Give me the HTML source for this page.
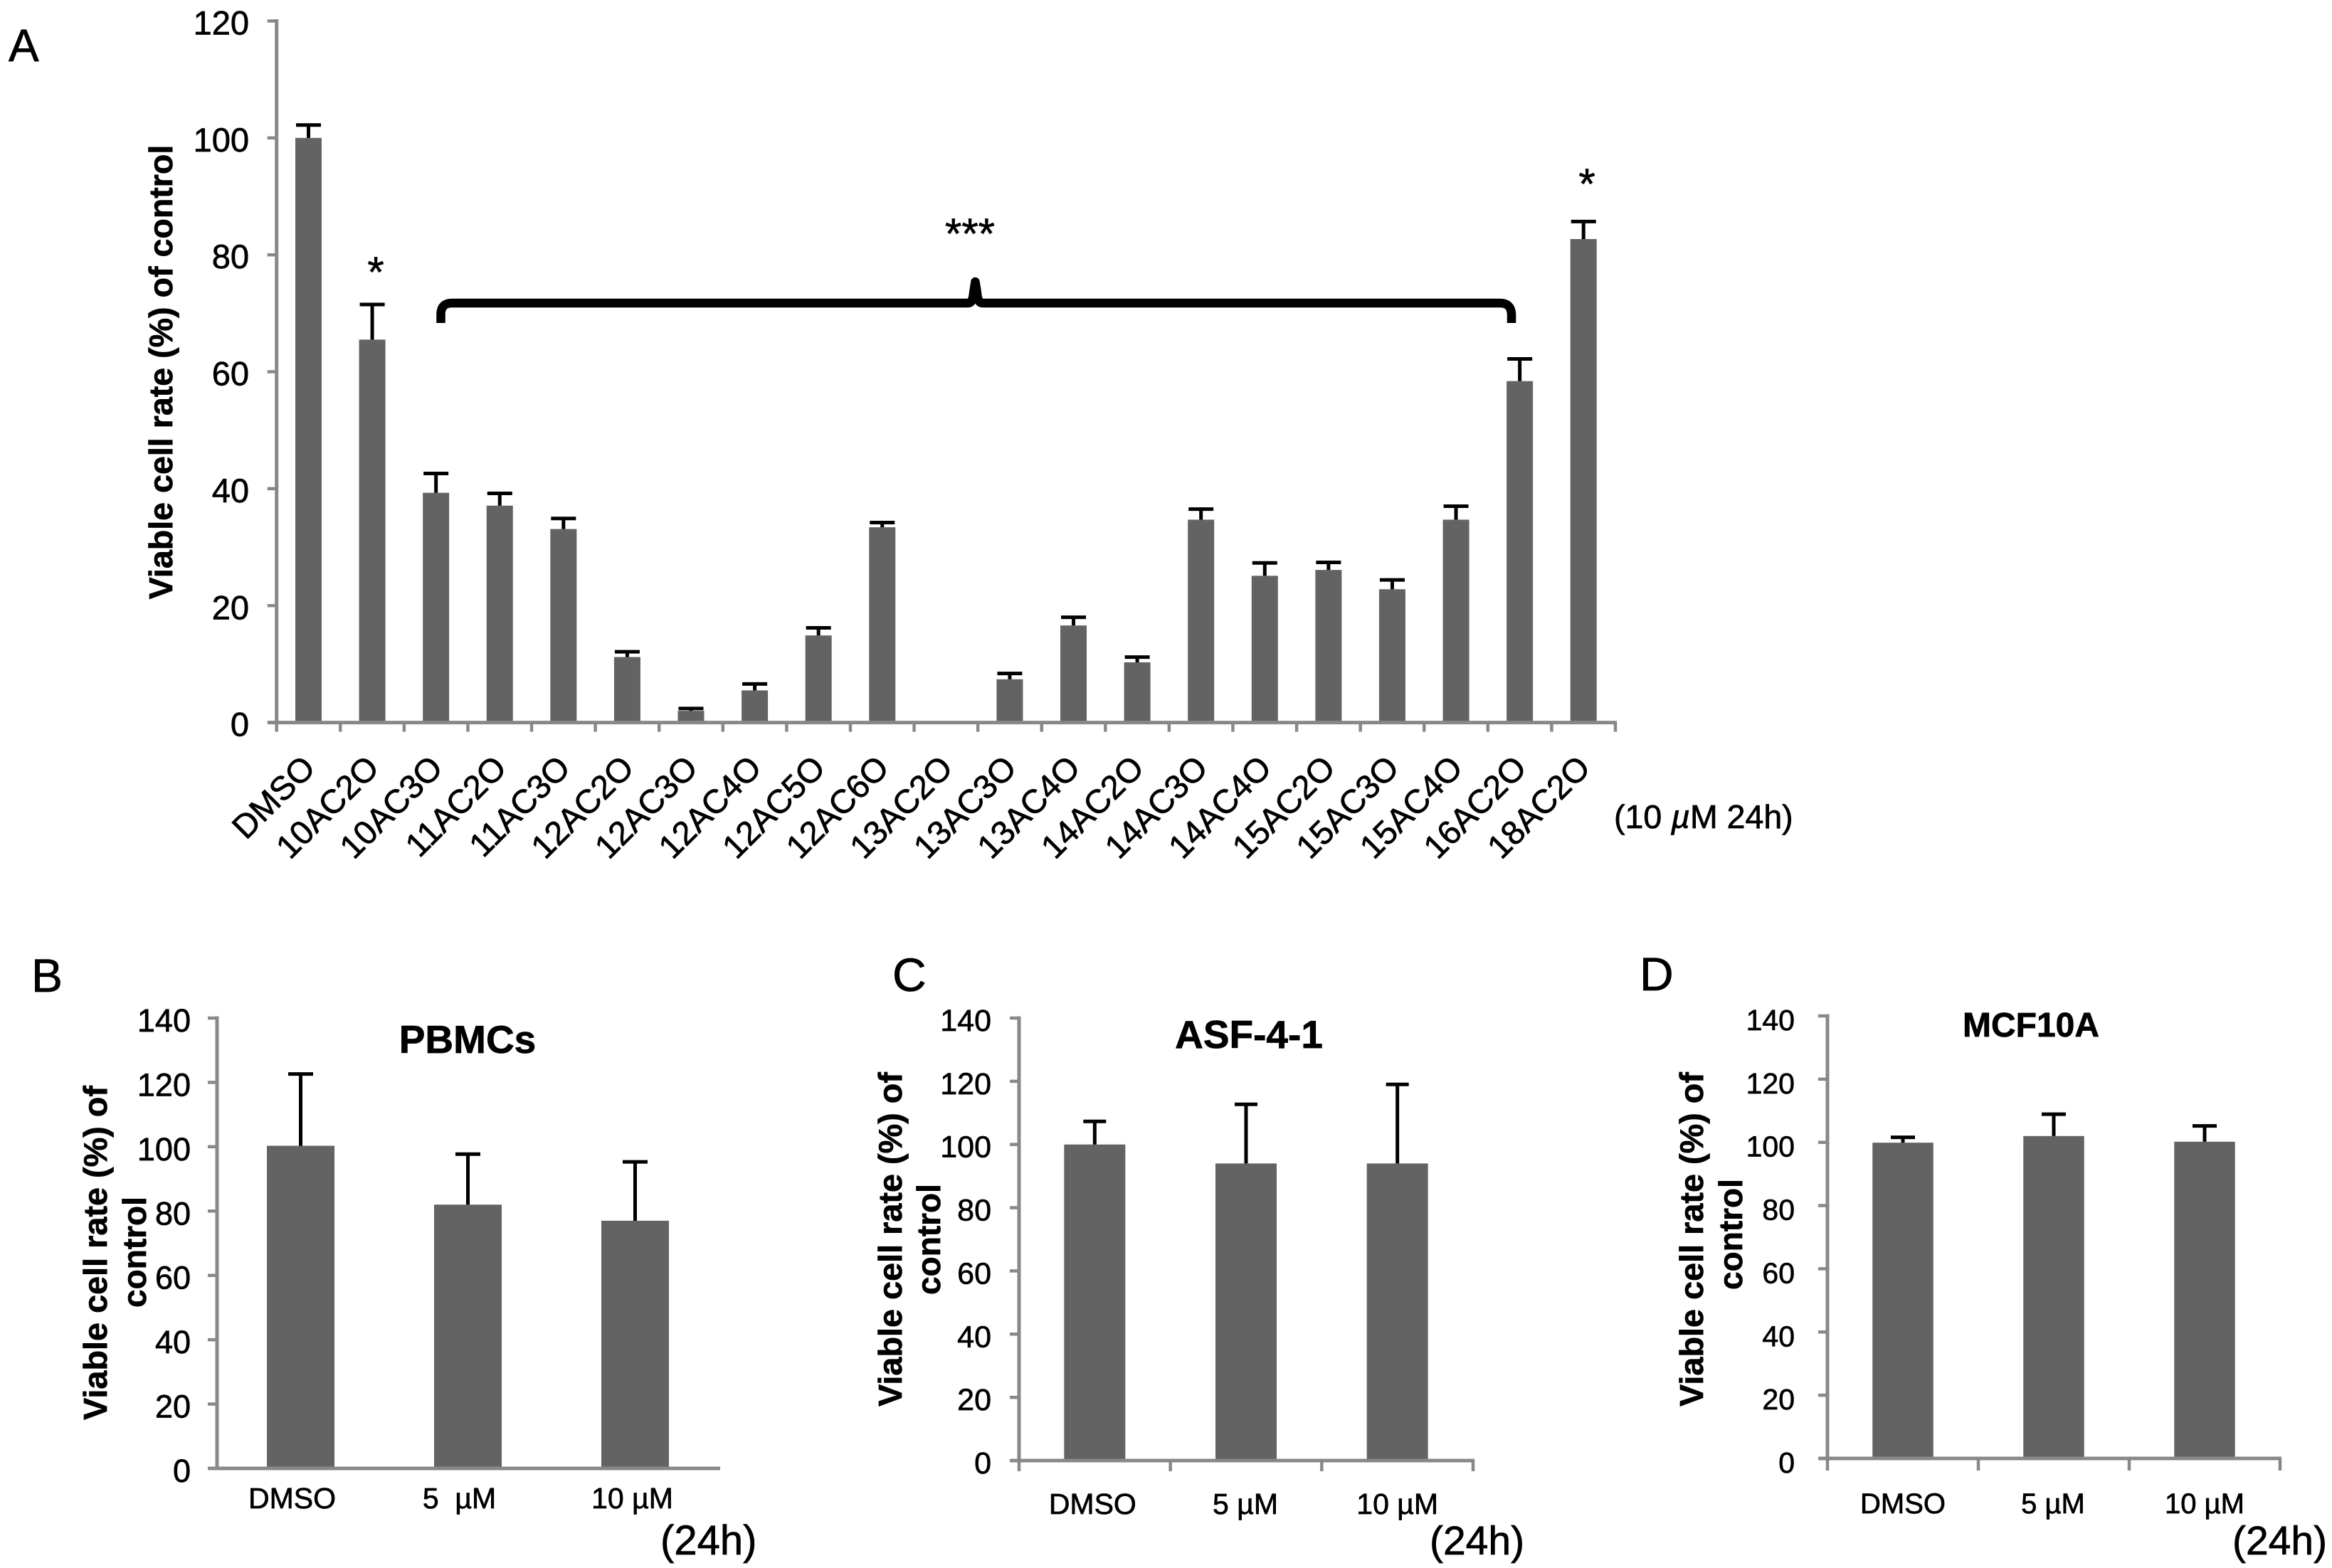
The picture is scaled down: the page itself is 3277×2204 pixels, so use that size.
<!DOCTYPE html>
<html lang="en">
<head>
<meta charset="utf-8">
<title>Viable cell rate charts</title>
<style>
  html, body { margin: 0; padding: 0; background: #fff; }
  svg { display: block; }
  text { font-family: "Liberation Sans", Arial, sans-serif; fill: #000; stroke: #000; stroke-width: 0.7px; }
  .b { font-weight: bold; }
</style>
</head>
<body>
<svg id="figure" xmlns="http://www.w3.org/2000/svg" width="3277" height="2204" viewBox="0 0 3277 2204">
  <rect x="0" y="0" width="3277" height="2204" fill="#fff"/>

  <text x="12" y="86" font-size="64">A</text>
  <text x="44" y="1394" font-size="66">B</text>
  <text x="1254" y="1393" font-size="66">C</text>
  <text x="2304" y="1392" font-size="66">D</text>

  <text class="b" font-size="46.6" text-anchor="middle" transform="translate(242 523) rotate(-90)">Viable cell rate (%) of control</text>

  <text class="b" font-size="46.8" text-anchor="middle" transform="translate(150 1761) rotate(-90)">Viable cell rate (%) of</text>
  <text class="b" font-size="46" text-anchor="middle" transform="translate(205 1760) rotate(-90)">control</text>

  <text class="b" font-size="46.8" text-anchor="middle" transform="translate(1267 1742) rotate(-90)">Viable cell rate (%) of</text>
  <text class="b" font-size="46" text-anchor="middle" transform="translate(1321 1742) rotate(-90)">control</text>

  <text class="b" font-size="46.8" text-anchor="middle" transform="translate(2393 1742) rotate(-90)">Viable cell rate (%) of</text>
  <text class="b" font-size="46" text-anchor="middle" transform="translate(2448 1735) rotate(-90)">control</text>

  <text class="b" x="657" y="1480" font-size="55" text-anchor="middle">PBMCs</text>
  <text class="b" x="1755" y="1473" font-size="55" text-anchor="middle">ASF-4-1</text>
  <text class="b" x="2854" y="1457" font-size="48" text-anchor="middle">MCF10A</text>

  <text x="2268" y="1164" font-size="46.5">(10 <tspan font-style="italic">µ</tspan>M 24h)</text>
  <text x="928" y="2185" font-size="58">(24h)</text>
  <text x="2009" y="2185" font-size="57">(24h)</text>
  <text x="3137" y="2185" font-size="57">(24h)</text>

  <path d="M619.5 454 L619.5 441 Q620 426 635 426 L1360 426 Q1367 426 1368 412 L1370.5 396 L1373 412 Q1374 426 1381 426 L2108 426 Q2123 426 2124 441 L2124 454" fill="none" stroke="#000" stroke-width="12.5" stroke-linejoin="round"/>
  <text x="528" y="403" font-size="60" text-anchor="middle">*</text>
  <text x="1363" y="349" font-size="60" text-anchor="middle">***</text>
  <text x="2230" y="279" font-size="60" text-anchor="middle">*</text>
</svg>

<script>
// ---- Panel A data ----
const aCategories = ["DMSO","10AC2O","10AC3O","11AC2O","11AC3O","12AC2O","12AC3O","12AC4O","12AC5O","12AC6O","13AC2O","13AC3O","13AC4O","14AC2O","14AC3O","14AC4O","15AC2O","15AC3O","15AC4O","16AC2O","18AC2O"];
const aValues = [100,65.5,39.3,37.1,33.1,11.2,2.0,5.5,14.9,33.4,0,7.4,16.6,10.3,34.7,25.1,26.1,22.8,34.7,58.4,82.7];
const aErrors = [2.2,6.0,3.3,2.1,1.8,0.9,0.4,1.1,1.3,0.8,0,1.0,1.4,0.9,1.8,2.2,1.3,1.6,2.3,3.8,3.0];
const aTicks = [0,20,40,60,80,100,120];

// ---- Panel B data ----
const bCategories = ["DMSO","5\u00a0\u00a0µM","10 µM"];
const bValues = [100.3,82,77];
const bErrors = [22.3,15.7,18.3];
const bTicks = [0,20,40,60,80,100,120,140];

// ---- Panel C data ----
const cCategories = ["DMSO","5 µM","10 µM"];
const cValues = [100,94,94];
const cErrors = [7.3,18.7,25];
const cTicks = [0,20,40,60,80,100,120,140];

// ---- Panel D data ----
const dCategories = ["DMSO","5 µM","10 µM"];
const dValues = [99.9,102,100.2];
const dErrors = [1.7,6.9,5.0];
const dTicks = [0,20,40,60,80,100,120,140];

const NS = "http://www.w3.org/2000/svg";
const figure = document.getElementById("figure");
const AXIS = "#888888";
const BAR = "#636363";

function make(tag, attrs, parent) {
  const el = document.createElementNS(NS, tag);
  for (const k in attrs) el.setAttribute(k, attrs[k]);
  parent.appendChild(el);
  return el;
}

function drawPanel(p) {
  const g = make("g", {}, figure);
  
  

  const yMax = p.ticks[p.ticks.length - 1];
  const yScale = v => p.y0 - v * (p.y0 - p.yTop) / yMax;
  const step = (p.xEnd - p.x0) / p.categories.length;
  const xScale = i => p.x0 + (i + 0.5) * step;

  // bars and error bars
  p.values.forEach((v, i) => {
    const cx = xScale(i);
    if (v > 0) {
      const bar = make("rect", {x: cx - p.barW / 2, y: yScale(v), width: p.barW, height: p.y0 - yScale(v), fill: BAR}, g);
      
      
    }
    if (p.errors[i] > 0) {
      const top = yScale(v + p.errors[i]);
      const stem = make("line", {x1: cx, x2: cx, y1: yScale(v), y2: top, stroke: "#000", "stroke-width": 5}, g);
      
      
      const cap = make("line", {x1: cx - p.capW / 2, x2: cx + p.capW / 2, y1: top, y2: top, stroke: "#000", "stroke-width": 5}, g);
      
      
    }
  });

  // axes
  const yAxis = make("line", {x1: p.x0, x2: p.x0, y1: p.yTop - 2.5, y2: p.y0 + 2.5, stroke: AXIS, "stroke-width": 5}, g);
  
  
  const xAxis = make("line", {x1: p.x0 - 12, x2: p.xEnd + 2, y1: p.y0, y2: p.y0, stroke: AXIS, "stroke-width": 5}, g);
  
  

  // y ticks and labels
  p.ticks.forEach(t => {
    const y = yScale(t);
    const mark = make("line", {x1: p.x0 - 13, x2: p.x0, y1: y, y2: y, stroke: AXIS, "stroke-width": 4.5}, g);
    
    
    const label = make("text", {x: p.yLabelRight, y: y + p.yLabelDy, "font-size": p.yLabelSize, "text-anchor": "end"}, g);
    label.textContent = String(t);
    
    
  });

  // x ticks
  if (p.xTickLen > 0) {
    for (let i = 0; i <= p.categories.length; i++) {
      const x = p.x0 + i * step;
      const mark = make("line", {x1: x, x2: x, y1: p.y0, y2: p.y0 + p.xTickLen, stroke: AXIS, "stroke-width": 4.5}, g);
      
      
    }
  }

  // x labels
  p.categories.forEach((name, i) => {
    const cx = xScale(i);
    let label;
    if (p.rotated) {
      label = make("text", {"font-size": p.xLabelSize, "text-anchor": "end",
        transform: "translate(" + (cx + 12) + " " + p.xLabelY + ") rotate(-45)"}, g);
    } else {
      label = make("text", {x: cx + p.labelOffsets[i], y: p.xLabelY, "font-size": p.xLabelSize, "text-anchor": "middle"}, g);
    }
    label.textContent = name;
    
    
  });
}

drawPanel({id: "a", categories: aCategories, values: aValues, errors: aErrors, ticks: aTicks,
  x0: 388.7, xEnd: 2270, yTop: 29.5, y0: 1015.6, barW: 37, capW: 35, xTickLen: 13,
  yLabelRight: 350, yLabelDy: 19, yLabelSize: 47, rotated: true, xLabelY: 1082, xLabelSize: 47});

drawPanel({id: "b", categories: bCategories, values: bValues, errors: bErrors, ticks: bTicks,
  x0: 305, xEnd: 1010, yTop: 1431, y0: 2064, barW: 95, capW: 35, xTickLen: 0,
  yLabelRight: 268, yLabelDy: 19, yLabelSize: 45, rotated: false, xLabelY: 2120, xLabelSize: 41, labelOffsets: [-12,-12,-4]});

drawPanel({id: "c", categories: cCategories, values: cValues, errors: cErrors, ticks: cTicks,
  x0: 1432, xEnd: 2070, yTop: 1431, y0: 2053, barW: 86, capW: 32, xTickLen: 15,
  yLabelRight: 1393, yLabelDy: 18, yLabelSize: 43, rotated: false, xLabelY: 2128, xLabelSize: 41, labelOffsets: [-3,-1,0]});

drawPanel({id: "d", categories: dCategories, values: dValues, errors: dErrors, ticks: dTicks,
  x0: 2568, xEnd: 3204, yTop: 1428, y0: 2050, barW: 85.5, capW: 34, xTickLen: 17,
  yLabelRight: 2522, yLabelDy: 20, yLabelSize: 41, rotated: false, xLabelY: 2127, xLabelSize: 40, labelOffsets: [0,-1,0]});
</script>
</body>
</html>
